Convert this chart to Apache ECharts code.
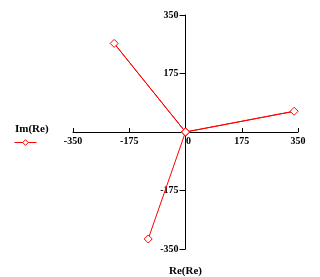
<!DOCTYPE html>
<html><head><meta charset="utf-8">
<script src="https://cdn.jsdelivr.net/npm/echarts@6/dist/echarts.min.js"></script>
<style>html,body{margin:0;padding:0;background:#fff}#c{width:320px;height:277px}</style>
</head><body><div id="c"></div>
<script>
const seriesName = 'Im(Re)';
const xName = 'Re(Re)';
const reValues = [0, -222, 0, 338, 0, -116];
const imValues = [0, 265, 0, 62, 0, -320];
const xTicks = [-350, -175, 0, 175, 350];
const yTicks = [-350, -175, 0, 175, 350];

const W = 320, H = 277;
const G = {left: 73, right: 22, top: 15, bottom: 28};
const gridW = W - G.left - G.right, gridH = H - G.top - G.bottom;

const font = {fontFamily: 'Liberation Serif', fontWeight: 'bold', color: '#000'};
const chart = echarts.init(document.getElementById('c'), null, {renderer: 'canvas'});
chart.setOption({
  animation: false,
  backgroundColor: '#fff',
  title: {text: seriesName, left: 15, top: 124, padding: 0, textStyle: Object.assign({fontSize: 11}, font)},
  legend: {left: 14, top: 139, padding: 0, itemWidth: 22, itemHeight: 7, formatter: () => '', data: [seriesName],
    lineStyle: {width: 1, color: '#ff0000'},
    itemStyle: {color: '#fff', borderColor: '#ff0000', borderWidth: 1},
    textStyle: font},
  grid: Object.assign({containLabel: false, outerBoundsMode: 'none'}, G),
  xAxis: {type: 'value', min: xTicks[0], max: xTicks[xTicks.length-1], interval: 175,
    position: 'bottom', offset: -gridH / 2,
    name: xName, nameLocation: 'middle', nameGap: 134, nameTextStyle: Object.assign({fontSize: 11}, font),
    axisLine: {onZero: false, lineStyle: {color: '#000', width: 1}},
    axisTick: {inside: true, length: 4, lineStyle: {color: '#000'}},
    axisLabel: Object.assign({fontSize: 10, margin: 4,
      formatter: v => v === 0 ? '{z|0}' : String(v),
      rich: {z: {padding: [0, 0, 0, 6], fontSize: 10, fontFamily: 'Liberation Serif', fontWeight: 'bold', color: '#000'}}}, font),
    splitLine: {show: false}},
  yAxis: {type: 'value', min: yTicks[0], max: yTicks[yTicks.length-1], interval: 175,
    position: 'left', offset: -gridW / 2,
    axisLine: {show: true, onZero: false, lineStyle: {color: '#000', width: 1}},
    axisTick: {show: true, length: 6, lineStyle: {color: '#000'}},
    axisLabel: Object.assign({fontSize: 10, margin: 7, formatter: v => v === 0 ? '' : String(v)}, font),
    splitLine: {show: false}},
  series: [{
    name: seriesName, type: 'line',
    data: reValues.map((x, i) => [x, imValues[i]]),
    symbol: 'diamond', symbolSize: 8, showAllSymbol: true,
    lineStyle: {color: '#ff0000', width: 1},
    itemStyle: {color: '#fff', borderColor: '#ff0000', borderWidth: 1}
  }]
});
</script></body></html>
